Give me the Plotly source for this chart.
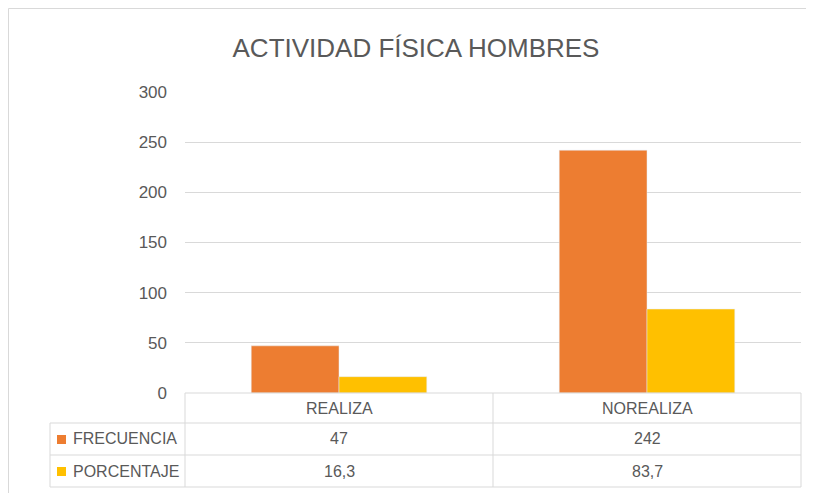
import plotly.graph_objects as go

categories = ["REALIZA", "NOREALIZA"]
series_names = ["FRECUENCIA", "PORCENTAJE"]
frecuencia = [47, 242]
porcentaje = [16.3, 83.7]
porcentaje_labels = ["16,3", "83,7"]
y_ticks = [0, 50, 100, 150, 200, 250, 300]
colors = ["#ED7D31", "#FFC000"]

OFF = 8  # page body margin offset
W, H = 814 - OFF, 493 - OFF
# plot area in screenshot pixels
L, R, T, B = 185, 801, 92, 393
FONT = "Liberation Sans, Arial, sans-serif"
GRAY = "#595959"
LINE = "#D9D9D9"

def px(x):
    return (x - L) / (R - L)

def py(y):
    return (B - y) / (B - T)

fig = go.Figure()
fig.add_trace(go.Bar(x=categories, y=frecuencia, name=series_names[0],
                     marker_color=colors[0], showlegend=False))
fig.add_trace(go.Bar(x=categories, y=porcentaje, name=series_names[1],
                     marker_color=colors[1], showlegend=False))

shapes = []
def hline(x0, x1, y):
    shapes.append(dict(type="line", xref="paper", yref="paper",
                       x0=px(x0), x1=px(x1), y0=py(y), y1=py(y),
                       line=dict(color=LINE, width=1), layer="above"))
def vline(x, y0, y1):
    shapes.append(dict(type="line", xref="paper", yref="paper",
                       x0=px(x), x1=px(x), y0=py(y0), y1=py(y1),
                       line=dict(color=LINE, width=1), layer="above"))

# table grid
hline(L, R, 393)
hline(50, R, 423)
hline(50, R, 455)
hline(50, R, 487)
vline(50, 423, 487)
vline(L, 393, 487)
vline(493, 393, 487)
vline(R, 393, 487)
# outer chart frame (top and left)
hline(OFF + 0.5, 814, OFF + 0.5)
vline(OFF + 0.5, OFF + 0.5, 493)

annotations = []
col_centers = [339, 647]
for cat, cx in zip(categories, col_centers):
    annotations.append(dict(text=cat, x=px(cx), y=py(408), xref="paper", yref="paper",
                            showarrow=False, xanchor="center", yanchor="middle",
                            font=dict(family=FONT, size=16, color=GRAY)))
row_ys = [439, 471]
row_vals = [[str(v) for v in frecuencia], porcentaje_labels]
for name, color, ry, vals in zip(series_names, colors, row_ys, row_vals):
    shapes.append(dict(type="rect", xref="paper", yref="paper",
                       x0=px(57), x1=px(66), y0=py(ry + 5), y1=py(ry - 4),
                       fillcolor=color, line=dict(width=0)))
    annotations.append(dict(text=name, x=px(71), y=py(ry), xref="paper", yref="paper",
                            showarrow=False, xanchor="left", yanchor="middle",
                            font=dict(family=FONT, size=16, color=GRAY)))
    for v, cx in zip(vals, col_centers):
        annotations.append(dict(text=v, x=px(cx), y=py(ry), xref="paper", yref="paper",
                                showarrow=False, xanchor="center", yanchor="middle",
                                font=dict(family=FONT, size=16, color=GRAY)))

fig.update_layout(
    width=W, height=H, autosize=False,
    margin=dict(l=L - OFF, r=814 - R, t=T - OFF, b=493 - B, pad=0),
    paper_bgcolor="white", plot_bgcolor="white",
    barmode="group", bargap=0.43, bargroupgap=0,
    title=dict(text="ACTIVIDAD FÍSICA HOMBRES", x=(416 - OFF) / W, y=1 - (48 - OFF) / H,
               xanchor="center", yanchor="middle",
               font=dict(family=FONT, size=26, color=GRAY)),
    xaxis=dict(showticklabels=False, showgrid=False, zeroline=False,
               showline=False, ticks=""),
    yaxis=dict(range=[0, 300], tickvals=y_ticks, showgrid=True, gridcolor=LINE,
               gridwidth=1, zeroline=False, showline=False, ticks="",
               ticklabelstandoff=17,
               tickfont=dict(family=FONT, size=17, color=GRAY)),
    shapes=shapes, annotations=annotations,
)

fig.write_html("out.html")
